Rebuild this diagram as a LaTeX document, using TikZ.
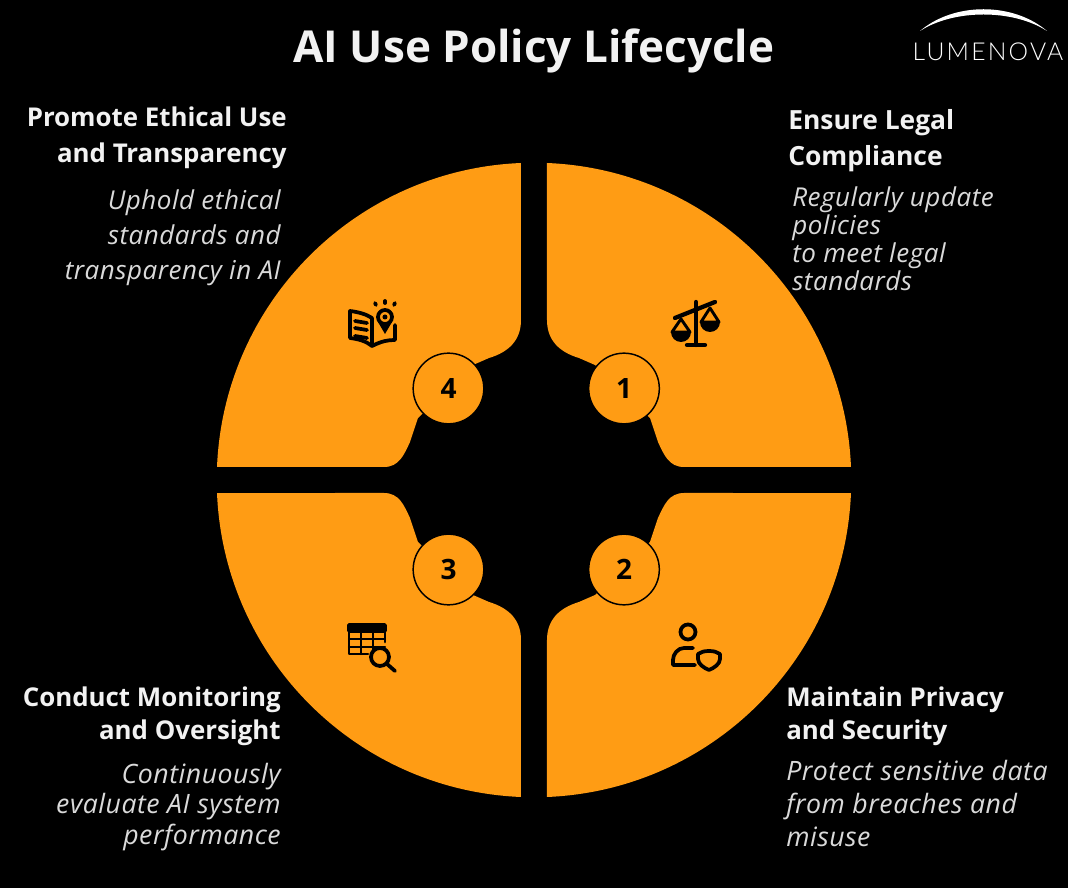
\documentclass[tikz,border=0pt]{standalone}
\usepackage{fontspec}
\usepackage{xcolor}
\setmainfont{Open Sans}
\newfontfamily\descfont[LetterSpace=2.0]{Open Sans}
\newfontfamily\logofont[LetterSpace=9.0]{Lato Light}
\definecolor{petal}{HTML}{FF9C14}
\definecolor{headcol}{HTML}{F2F2F2}
\definecolor{desccol}{HTML}{DADADA}
\usetikzlibrary{positioning,calc}
\tikzset{
    headtext/.style 2 args={text=headcol, inner sep=0pt, font=\fontsize{#1}{#2}\selectfont\bfseries},
    desctext/.style 2 args={text=desccol, inner sep=0pt, font=\descfont\itshape\fontsize{#1}{#2}\selectfont},
    numdisc/.style={circle, draw=black, line width=1.1pt, fill=petal, minimum size=53pt, inner sep=0pt, font=\fontsize{21}{25}\selectfont\bfseries},
    icon/.style={line width=2.8pt, draw=black, line cap=round, line join=round}
}
\newcommand{\petalpath}{(13,317) arc[start angle=87.65, end angle=2.35, radius=317.27] -- (150,13)
    .. controls (135,13) and (130,25) .. (124,38) -- (116,62) -- (61,115) -- (45,122)
    .. controls (25,128) and (13,140) .. (13,160) -- cycle}
\begin{document}
\begin{tikzpicture}[x=0.75pt, y=0.75pt]
    % Background, origin at the middle of the ring
    \fill[black] (-534,-408) rectangle (534,480);
    \useasboundingbox (-534,-408) rectangle (534,480);

    % Quarter rings
    \foreach \sx/\sy in {1/1,1/-1,-1/-1,-1/1}
        \fill[petal, xscale=\sx, yscale=\sy] \petalpath;

    % Number discs
    \node[numdisc] (numa) at (90,91.5) {1};
    \node[numdisc] (numb) at (90,-89.5) {2};
    \node[numdisc] (numc) at (-85.5,-89.5) {3};
    \node[numdisc] (numd) at (-85.5,91.5) {4};

    % Scales icon
    \draw[icon, line width=3.2pt] (162,178) -- (162,135);
    \draw[icon, line width=3.2pt] (153,135) -- (171,135);
    \draw[icon, line width=3.2pt] (141,162) -- (181,178);
    \draw[icon, line width=2.2pt] (147,161) -- (138,148) -- (156,148) -- cycle;
    \draw[icon, line width=2.2pt] (176,172) -- (167,158) -- (185,158) -- cycle;
    \fill (137,148) arc[start angle=180, end angle=360, radius=10] -- cycle;
    \fill (166,158) arc[start angle=180, end angle=360, radius=10] -- cycle;

    % Person and shield icon
    \draw[icon] (154,-152) circle (7.5);
    \draw[icon] (159,-168) -- (150,-168) .. controls (144,-168) and (139,-174) .. (139,-180) -- (139,-185) -- (161,-185);
    \draw[icon] (175,-171) .. controls (170,-171) and (167,-172) .. (164,-174) -- (164,-179)
        .. controls (164,-184) and (170,-188) .. (175,-190)
        .. controls (180,-188) and (186,-184) .. (186,-179) -- (186,-174)
        .. controls (183,-172) and (180,-171) .. (175,-171) -- cycle;

    % Table and lens icon
    \draw[icon, fill=black] (-185,-145) rectangle (-149,-151);
    \draw[icon, line width=2.2pt] (-185,-151) -- (-185,-174) -- (-166,-174);
    \draw[icon, line width=2.2pt] (-149,-151) -- (-149,-162);
    \foreach \x in {-173,-161}
        \draw[icon, line width=1.8pt] (\x,-151) -- (\x,-174);
    \foreach \y in {-159,-167}
        \draw[icon, line width=1.8pt] (-185,\y) -- (-149,\y);
    \draw[icon, fill=petal] (-154,-177) circle (9);
    \draw[icon] (-147,-184) -- (-139,-191);

    % Book and pin icon
    \draw[icon] (-162,134) -- (-162,162) .. controls (-168,166) and (-176,168) .. (-184,169) -- (-184,142)
        .. controls (-176,141) and (-168,139) .. (-162,134);
    \draw[icon] (-162,134) .. controls (-152,139) and (-146,140) .. (-139,140) -- (-139,155);
    \foreach \y in {160,153,145}
        \draw[icon] (-179,\y-1) -- (-167,\y-3);
    \fill[black] (-156,158) -- (-149,146) -- (-142,158) -- cycle;
    \draw[icon, fill=petal] (-149,163) circle (7);
    \fill[black] (-149,163) circle (2.5);
    \draw[icon] (-159,177) -- (-158,175);
    \draw[icon] (-149,179) -- (-149,177);
    \draw[icon] (-139,177) -- (-140,175);

    % Title
    \node[text=headcol, inner sep=0pt, font=\fontsize{33}{39}\selectfont\bfseries] (title) at (0,429.5) {AI Use Policy Lifecycle};

    % Captions
    \node[headtext={19.4}{27}, anchor=east, align=right] (headd) at (-247,342) {Promote Ethical Use\\and Transparency};
    \node[desctext={19.5}{26.2}, anchor=east, align=right] (descd) at (-253,242) {Uphold ethical\\standards and\\transparency in AI};
    \node[headtext={19.8}{27}, anchor=west, align=left] (heada) at (254,339) {Ensure Legal\\Compliance};
    \node[desctext={19.5}{21}, anchor=west, align=left] (desca) at (258,241) {Regularly update\\policies\\to meet legal\\standards};
    \node[headtext={19.4}{24.8}, anchor=east, align=right] (headc) at (-253,-236) {Conduct Monitoring\\and Oversight};
    \node[desctext={20}{23}, anchor=east, align=right] (descc) at (-253,-327) {Continuously\\evaluate AI system\\performance};
    \node[headtext={19.4}{24.8}, anchor=west, align=left] (headb) at (252,-236) {Maintain Privacy\\and Security};
    \node[desctext={20}{24.7}, anchor=west, align=left] (descb) at (252,-323.5) {Protect sensitive data\\from breaches and\\misuse};

    % Logo
    \fill[white] (386,449) .. controls (420,478) and (479,478) .. (513,449) .. controls (479,471) and (420,471) .. (386,449) -- cycle;
    \node[text=white, inner sep=0pt, font=\logofont\fontsize{18.5}{22}\selectfont] (logo) at (454,428) {LUMENOVA};
\end{tikzpicture}
\end{document}
